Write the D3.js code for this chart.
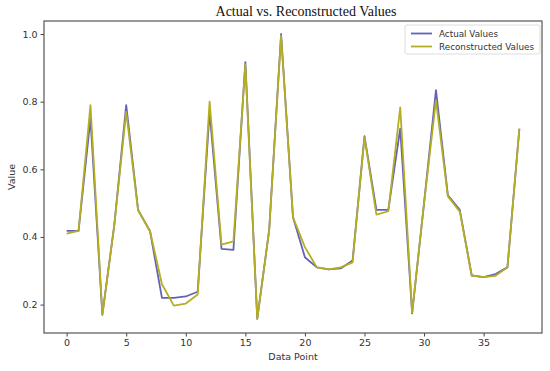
<!DOCTYPE html>
<html>
<head>
<meta charset="utf-8">
<script src="https://cdn.jsdelivr.net/npm/d3@7"></script>
<style>
  body { margin: 0; background: #fff; }
  svg text { font-family: "DejaVu Sans", sans-serif; fill: #333; }
</style>
</head>
<body>
<svg width="550" height="371"></svg>
<script>
const actualValues = [0.418, 0.418, 0.75, 0.17, 0.435, 0.79, 0.48, 0.417, 0.22, 0.22, 0.224, 0.238,
    0.77, 0.365, 0.362, 0.917, 0.158, 0.42, 1.0, 0.458, 0.34, 0.31, 0.304, 0.307, 0.33,
    0.698, 0.48, 0.48, 0.72, 0.174, 0.5, 0.834, 0.523, 0.48, 0.286, 0.281, 0.29, 0.31, 0.72];
const reconValues = [0.41, 0.418, 0.79, 0.17, 0.435, 0.77, 0.478, 0.417, 0.26, 0.197, 0.203, 0.23,
    0.80, 0.377, 0.387, 0.91, 0.158, 0.42, 0.995, 0.458, 0.37, 0.31, 0.304, 0.31, 0.325,
    0.695, 0.466, 0.476, 0.783, 0.176, 0.5, 0.804, 0.52, 0.475, 0.286, 0.281, 0.285, 0.31, 0.72];
const xTicks = [0, 5, 10, 15, 20, 25, 30, 35];
const yTicks = [0.2, 0.4, 0.6, 0.8, 1.0];
const seriesNames = ["Actual Values", "Reconstructed Values"];
const seriesColors = ["#6262bb", "#b5ae22"];

const svg = d3.select("svg");
const margin = {left: 44, right: 8, top: 21, bottom: 38};
const width = 550 - margin.left - margin.right;
const height = 371 - margin.top - margin.bottom;

const x = d3.scaleLinear().domain([-1.9, 39.9]).range([0, width]);
const y = d3.scaleLinear().domain([0.116, 1.0385]).range([height, 0]);

const g = svg.append("g").attr("transform", `translate(${margin.left},${margin.top})`);

const xAxis = g.append("g")
    .attr("transform", `translate(0,${height})`)
    .call(d3.axisBottom(x).tickValues(xTicks).tickSize(3.5).tickPadding(3).tickFormat(d3.format("d")));
const yAxis = g.append("g")
    .call(d3.axisLeft(y).tickValues(yTicks).tickSize(3.5).tickPadding(3).tickFormat(d3.format(".1f")));
[xAxis, yAxis].forEach(a => {
    a.select(".domain").remove();
    a.selectAll("line").attr("stroke", "#444");
    a.selectAll("text").attr("font-size", 9.5).style("fill", "#333");
});

g.append("rect")
    .attr("width", width).attr("height", height)
    .attr("fill", "none").attr("stroke", "#555").attr("stroke-width", 1.2);

const line = d3.line().x((d, i) => x(i)).y(d => y(d));
[actualValues, reconValues].forEach((vals, k) => {
    g.append("path")
        .datum(vals)
        .attr("fill", "none")
        .attr("stroke", seriesColors[k])
        .attr("stroke-width", 1.8)
        .attr("stroke-linejoin", "round")
        .attr("d", line);
});

// title and axis labels
svg.append("text")
    .attr("x", 306).attr("y", 16)
    .attr("text-anchor", "middle")
    .style("font-family", "'Liberation Serif', 'Times New Roman', serif")
    .style("fill", "#111")
    .attr("font-size", 14)
    .text("Actual vs. Reconstructed Values");
svg.append("text")
    .attr("x", margin.left + width / 2).attr("y", 360)
    .attr("text-anchor", "middle").attr("font-size", 9.5)
    .text("Data Point");
svg.append("text")
    .attr("transform", `translate(15,${margin.top + height / 2}) rotate(-90)`)
    .attr("text-anchor", "middle").attr("font-size", 9.5)
    .text("Value");

// legend
const legend = svg.append("g").attr("transform", "translate(405,25)");
legend.append("rect")
    .attr("width", 135).attr("height", 29).attr("rx", 2)
    .attr("fill", "#fff").attr("stroke", "#ddd");
seriesNames.forEach((name, k) => {
    const row = legend.append("g").attr("transform", `translate(0,${8.5 + k * 13})`);
    row.append("line").attr("x1", 6).attr("x2", 27)
        .attr("stroke", seriesColors[k]).attr("stroke-width", 1.8);
    row.append("text").attr("x", 34).attr("y", 3.3).attr("font-size", 8.8).text(name);
});
</script>
</body>
</html>
